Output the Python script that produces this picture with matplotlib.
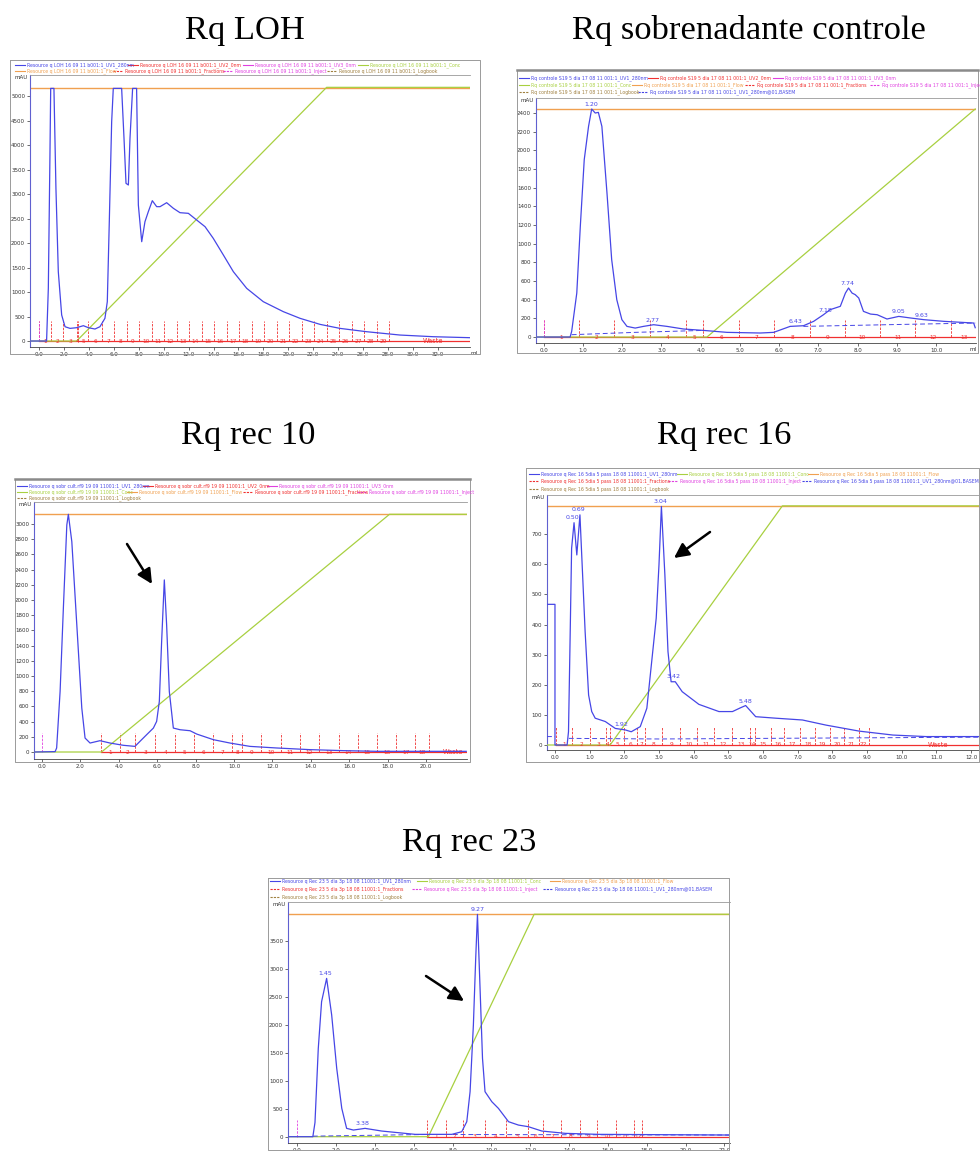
import numpy as np
import matplotlib.pyplot as plt

W, H = 980, 1151

titles = ['Rq LOH', 'Rq sobrenadante controle', 'Rq rec 10', 'Rq rec 16', 'Rq rec 23']

# ---------------- Rq LOH ----------------
loh_t = [-0.72, 0.61, 0.75, 0.88, 0.94, 1.2, 1.36, 1.55, 1.82, 2.09, 2.49, 3.02, 3.56, 3.96,
         4.49, 4.89, 5.29, 5.48, 5.64, 5.83, 5.96, 6.63, 6.82, 6.98, 7.17, 7.3, 7.51, 7.83,
         7.97, 8.24, 8.5, 8.77, 9.09, 9.44, 9.71, 10.24, 10.78, 11.31, 11.98, 12.65, 13.32,
         13.98, 14.79, 15.59, 16.66, 17.99, 19.6, 20.94, 22.54, 24.14, 26.28, 28.96, 31.63, 34.57]
loh_uv = [0, 0, 1075, 3796, 5156, 5156, 3116, 1415, 531, 292, 258, 272, 313, 272,
          245, 292, 463, 803, 2435, 4476, 5156, 5156, 4136, 3218, 3184, 4136, 5156, 5156,
          2776, 2027, 2435, 2640, 2864, 2742, 2742, 2823, 2708, 2619, 2606, 2469, 2333,
          2095, 1755, 1415, 1075, 803, 599, 463, 340, 258, 190, 122, 88, 68]
loh_conc_t = [-0.72, 3.02, 23.07, 34.57]
loh_conc = [0, 0, 5177, 5177]
loh_flow = 5156
loh_frac = [0.0, 0.96, 1.95, 3.02, 3.12, 3.96, 5.03, 6.04, 7.03, 8.05, 9.06, 10.05, 11.04, 12.06,
            13.05, 14.06, 15.05, 16.07, 17.06, 18.07, 19.06, 20.08, 21.07, 22.09, 23.07, 24.09,
            25.08, 26.07, 27.09, 28.07]

# ---------------- Rq sobrenadante controle ----------------
ctl_t = [-0.2, 0.67, 0.71, 0.84, 0.93, 1.03, 1.14, 1.22, 1.31, 1.39, 1.48, 1.61, 1.73, 1.86,
         1.99, 2.12, 2.33, 2.54, 2.8, 3.14, 3.56, 4.07, 4.67, 5.52, 5.86, 6.28, 6.62, 6.88,
         7.13, 7.3, 7.56, 7.69, 7.77, 7.86, 7.94, 8.03, 8.15, 8.33, 8.5, 8.75, 9.05, 9.35,
         9.69, 10.2, 10.96, 11.0]
ctl_uv = [0, 0, 61, 471, 1186, 1900, 2257, 2443, 2400, 2407, 2257, 1543, 829, 400,
          186, 114, 96, 114, 132, 114, 86, 71, 50, 43, 50, 114, 121, 168,
          239, 293, 329, 471, 525, 471, 454, 418, 275, 246, 239, 193, 221, 204,
          186, 168, 150, 100]
ctl_conc_t = [-0.2, 4.16, 11.0]
ctl_conc = [0, 0, 2443]
ctl_flow = 2443
ctl_base_t = [0.71, 2.33, 4.07, np.nan, 6.62, 8.75, 11.0]
ctl_base = [25, 50, 71, np.nan, 114, 132, 150]
ctl_frac = [0.0, 0.9, 1.8, 2.71, 3.62, 4.07, 4.97, 5.88, 6.78, 7.67, 8.58, 9.47, 10.38, 11.03]
ctl_peaks = [1.20, 2.77, 6.43, 7.18, 7.74, 9.05, 9.63]
ctl_peak_h = [2443, 132, 114, 239, 525, 221, 186]

# ---------------- Rq rec 10 ----------------
r10_t = [-0.42, 0.68, 0.76, 0.94, 1.11, 1.29, 1.37, 1.55, 1.81, 2.07, 2.24, 2.5, 3.02, 3.54,
         4.24, 4.84, 5.1, 5.45, 5.8, 5.97, 6.11, 6.23, 6.37, 6.49, 6.63, 6.84, 7.19, 7.71,
         8.06, 8.93, 9.79, 10.83, 12.22, 13.96, 15.7, 17.43, 22.1]
r10_uv = [0, 5, 53, 797, 1892, 2987, 3127, 2768, 1673, 578, 184, 118, 149, 118,
          88, 74, 140, 228, 315, 403, 666, 1454, 2264, 1673, 797, 315, 293, 280,
          236, 162, 118, 74, 53, 31, 18, 9, 9]
r10_conc_t = [-0.42, 3.1, 18.1, 22.14]
r10_conc = [0, 0, 3127, 3127]
r10_flow = 3127
r10_frac = [3.09, 4.05, 4.84, 5.9, 6.94, 7.92, 8.9, 9.91, 10.42, 11.42, 12.43, 13.42, 14.43,
            15.45, 16.46, 17.45, 18.46, 19.45, 20.14]

# ---------------- Rq rec 16 ----------------
r16_t = [-0.23, 0.0, 0.0, 0.35, 0.39, 0.43, 0.48, 0.55, 0.63, 0.72, 0.87, 0.97, 1.06, 1.16,
         1.45, 1.74, 2.03, 2.2, 2.46, 2.65, 2.8, 2.92, 3.0, 3.07, 3.17, 3.26, 3.35, 3.47,
         3.67, 4.15, 4.73, 5.12, 5.36, 5.5, 5.79, 6.37, 7.14, 7.82, 8.78, 9.75, 10.7, 12.26]
r16_uv = [467, 467, 0, 0, 44, 310, 653, 738, 631, 764, 376, 166, 111, 89,
          78, 55, 50, 44, 61, 122, 288, 421, 598, 792, 565, 310, 210, 210,
          177, 135, 111, 111, 124, 131, 94, 89, 83, 66, 46, 33, 28, 28]
r16_conc_t = [-0.23, 1.59, 6.56, 12.26]
r16_conc = [0, 0, 794, 794]
r16_flow = 794
r16_base_t = [-0.23, 0.0, np.nan, 0.4, 3.0, 12.26]
r16_base = [28, 28, np.nan, 22, 20, 26]
r16_frac = [0.03, 0.5, 1.01, 1.48, 1.58, 2.0, 2.38, 2.6, 3.1, 3.62, 4.1, 4.6, 5.12, 5.62,
            5.77, 6.23, 6.61, 7.07, 7.51, 7.92, 8.35, 8.76, 9.05]
r16_peaks = [0.50, 0.69, 1.92, 3.04, 3.42, 5.48]
r16_peak_h = [740, 766, 52, 792, 212, 131]

# ---------------- Rq rec 23 ----------------
r23_t = [-0.48, 0.8, 0.91, 1.08, 1.25, 1.51, 1.77, 2.03, 2.29, 2.54, 2.89, 3.49, 4.35, 6.07,
         7.96, 8.47, 8.73, 8.9, 9.07, 9.19, 9.28, 9.42, 9.54, 9.67, 10.02, 10.36, 10.88,
         11.39, 11.9, 12.6, 13.8, 15.5, 22.29]
r23_uv = [0, 0, 253, 1577, 2411, 2827, 2173, 1220, 506, 149, 119, 149, 101, 42,
          42, 89, 268, 804, 1994, 3185, 3970, 2589, 1399, 804, 625, 506, 268,
          208, 179, 101, 60, 42, 30]
r23_conc_t = [-0.48, 6.75, 12.2, 22.29]
r23_conc = [0, 0, 3972, 3972]
r23_flow = 3972
r23_base_t = [0.8, 6.7, 22.29]
r23_base = [10, 40, 30]
r23_frac = [6.7, 7.65, 8.56, 9.67, 10.76, 11.9, 12.68, 13.59, 14.54, 15.46, 16.43, 17.35, 17.75]
r23_peaks = [1.45, 3.38, 9.27]
r23_peak_h = [2827, 149, 3970]

BLUE = '#4646e6'
RED = '#f03030'
MAG = '#e040e0'
GREEN = '#a8d040'
ORANGE = '#f0a050'
BROWN = '#a08040'

fig = plt.figure(figsize=(W / 100, H / 100), dpi=100)


def px_rect(l, t, r, b):
    return [l / W, 1 - b / H, (r - l) / W, (b - t) / H]


panels = [
    dict(rect=(30, 75, 470, 347), xlim=(-0.72, 34.57), ylim=(-122, 5429), yt=np.arange(0, 5001, 500),
         xt=np.arange(0, 33, 2.0), t=loh_t, uv=loh_uv, ct=loh_conc_t, c=loh_conc, flow=loh_flow,
         frac=loh_frac, fh=408, inject=True, waste=31.6, base=None, peaks=None, ml='left'),
    dict(rect=(536, 98, 976, 343), xlim=(-0.2, 11.02), ylim=(-64, 2561), yt=np.arange(0, 2401, 200),
         xt=np.arange(0, 10.1, 1.0), t=ctl_t, uv=ctl_uv, ct=ctl_conc_t, c=ctl_conc, flow=ctl_flow,
         frac=ctl_frac, fh=186, inject=True, waste=None, base=(ctl_base_t, ctl_base),
         peaks=(ctl_peaks, ctl_peak_h), ml='right'),
    dict(rect=(34, 502, 467, 759), xlim=(-0.42, 22.14), ylim=(-92, 3289), yt=np.arange(0, 3001, 200),
         xt=np.arange(0, 20.1, 2.0), t=r10_t, uv=r10_uv, ct=r10_conc_t, c=r10_conc, flow=r10_flow,
         frac=r10_frac, fh=250, inject=True, waste=21.4, base=None, peaks=None, ml=None),
    dict(rect=(547, 495, 980, 750), xlim=(-0.23, 12.26), ylim=(-16.6, 830), yt=np.arange(0, 701, 100),
         xt=np.arange(0, 12.1, 1.0), t=r16_t, uv=r16_uv, ct=r16_conc_t, c=r16_conc, flow=r16_flow,
         frac=r16_frac, fh=61, inject=False, waste=11.05, base=(r16_base_t, r16_base),
         peaks=(r16_peaks, r16_peak_h), ml=None),
    dict(rect=(288, 902, 730, 1142.7), xlim=(-0.48, 22.29), ylim=(-107, 4191), yt=np.arange(0, 3501, 500),
         xt=np.arange(0, 22.1, 2.0), t=r23_t, uv=r23_uv, ct=r23_conc_t, c=r23_conc, flow=r23_flow,
         frac=r23_frac, fh=298, inject=True, waste=None, base=(r23_base_t, r23_base),
         peaks=(r23_peaks, r23_peak_h), ml=None),
]

for p in panels:
    ax = fig.add_axes(px_rect(*p['rect']))
    ax.set_xlim(*p['xlim'])
    ax.set_ylim(*p['ylim'])
    x0, x1 = p['xlim']
    # flow and concentration
    ax.plot([x0, x1], [p['flow'], p['flow']], color=ORANGE, lw=1.0, zorder=2)
    ax.plot(p['ct'], p['c'], color=GREEN, lw=0.9, zorder=3)
    # fractions
    fr = p['frac']
    ax.plot([fr[0], x1], [0, 0], color=RED, lw=0.9, zorder=2)
    for f in fr:
        ax.plot([f, f], [0, p['fh']], color=RED, lw=0.6, ls=(0, (3, 1.5)), zorder=2)
    for i in range(len(fr) - 1):
        ax.text((fr[i] + fr[i + 1]) / 2, 0, str(i + 1), color=RED, fontsize=4.2,
                ha='center', va='center', zorder=4)
    if p['waste'] is not None:
        ax.text(p['waste'], 0, 'Waste', color=RED, fontsize=4.8, ha='center', va='center', zorder=4)
    if p['inject']:
        ax.plot([0.0, 0.0], [0, p['fh']], color=MAG, lw=0.6, ls=(0, (3, 1.5)), zorder=2)
    if p['base'] is not None:
        ax.plot(p['base'][0], p['base'][1], color=BLUE, lw=0.7, ls=(0, (5, 3)), zorder=3)
    # UV trace
    ax.plot(p['t'], p['uv'], color=BLUE, lw=0.9, zorder=5)
    if p['peaks'] is not None:
        for pt, ph in zip(*p['peaks']):
            ax.text(pt, ph + (p['ylim'][1] - p['ylim'][0]) * 0.008, f'{pt:.2f}', color=BLUE,
                    fontsize=4.5, ha='center', va='bottom', zorder=6)

    ax.set_yticks(p['yt'])
    ax.set_yticklabels([f'{int(v)}' for v in p['yt']])
    ax.set_xticks(p['xt'])
    ax.set_xticklabels([f'{v:.1f}' for v in p['xt']])
    ax.tick_params(labelsize=4, length=2, width=0.5, colors='#333333', pad=1.5)
    ax.spines['right'].set_visible(False)
    ax.spines['top'].set_color('#999999')
    ax.spines['top'].set_linewidth(0.6)
    ax.spines['left'].set_color('#6060d0')
    ax.spines['left'].set_linewidth(0.8)
    ax.spines['bottom'].set_color('#444444')
    ax.spines['bottom'].set_linewidth(0.6)
    ax.text(-0.005, 1.0, 'mAU', transform=ax.transAxes, fontsize=4, color='#333333',
            ha='right', va='top')
    if p['ml'] is not None:
        ax.text(1.0, -0.015, 'ml', transform=ax.transAxes, fontsize=4, color='#333333',
                ha=p['ml'], va='top')

# overlay in pixel coordinates for frames, legends, titles and arrows
ov = fig.add_axes([0, 0, 1, 1])
ov.set_xlim(0, W)
ov.set_ylim(H, 0)
ov.axis('off')

frames = [(10, 60, 480, 354), (517, 70, 978, 353), (15, 479, 470, 762),
          (526, 468, 979, 762), (268, 878, 729, 1150)]
for (l, t, r, b) in frames:
    ov.plot([l, r, r, l, l], [t, t, b, b, t], color='#9a9a9a', lw=0.7)
for (l, t, r, b) in frames[1:3]:
    ov.plot([l, r], [t, t], color='#8a8a8a', lw=1.8)

title_pos = [(245, 31), (749, 30), (248, 436), (724, 436), (469, 843)]
for (x, y), s in zip(title_pos, titles):
    ov.text(x, y, s, fontsize=24.8, family='Liberation Serif', ha='center', va='center')


def legend_entry(x, y, text, color, dashed=False):
    ov.plot([x, x + 10], [y, y], color=color, lw=0.8, ls=(0, (2, 1)) if dashed else '-')
    ov.text(x + 12, y, text, color=color, fontsize=3.3, va='center', ha='left')


pre = 'Resource q LOH 16 09 11 b001:1_'
legend_entry(15, 65, pre + 'UV1_280nm', BLUE)
legend_entry(128, 65, pre + 'UV2_0nm', RED)
legend_entry(243, 65, pre + 'UV3_0nm', MAG)
legend_entry(358, 65, pre + 'Conc', GREEN)
legend_entry(15, 71, pre + 'Flow', ORANGE)
legend_entry(113, 71, pre + 'Fractions', RED, True)
legend_entry(223, 71, pre + 'Inject', MAG, True)
legend_entry(327, 71, pre + 'Logbook', BROWN, True)

pre = 'Rq controle S19 5 dia 17 08 11 001:1_'
legend_entry(519, 78, pre + 'UV1_280nm', BLUE)
legend_entry(648, 78, pre + 'UV2_0nm', RED)
legend_entry(773, 78, pre + 'UV3_0nm', MAG)
legend_entry(519, 85, pre + 'Conc', GREEN)
legend_entry(632, 85, pre + 'Flow', ORANGE)
legend_entry(745, 85, pre + 'Fractions', RED, True)
legend_entry(870, 85, pre + 'Injec', MAG, True)
legend_entry(519, 92, pre + 'Logbook', BROWN, True)
legend_entry(638, 92, pre + 'UV1_280nm@01,BASEM', BLUE, True)

pre = 'Resource q sobr cult.rf9 19 09 11001:1_'
legend_entry(17, 486, pre + 'UV1_280nm', BLUE)
legend_entry(143, 486, pre + 'UV2_0nm', RED)
legend_entry(267, 486, pre + 'UV3_0nm', MAG)
legend_entry(17, 492, pre + 'Conc', GREEN)
legend_entry(127, 492, pre + 'Flow', ORANGE)
legend_entry(243, 492, pre + 'Fractions', RED, True)
legend_entry(357, 492, pre + 'Inject', MAG, True)
legend_entry(17, 498, pre + 'Logbook', BROWN, True)

pre = 'Resource q Rec 16 5dia 5 pass 18 08 11001:1_'
legend_entry(529, 474, pre + 'UV1_280nm', BLUE)
legend_entry(677, 474, pre + 'Conc', GREEN)
legend_entry(808, 474, pre + 'Flow', ORANGE)
legend_entry(529, 481, pre + 'Fractions', RED, True)
legend_entry(668, 481, pre + 'Inject', MAG, True)
legend_entry(802, 481, pre + 'UV1_280nm@01,BASEM', BLUE, True)
legend_entry(529, 489, pre + 'Logbook', BROWN, True)

pre = 'Resource q Rec 23 5 dia 3p 18 08 11001:1_'
legend_entry(270, 881, pre + 'UV1_280nm', BLUE)
legend_entry(417, 881, pre + 'Conc', GREEN)
legend_entry(550, 881, pre + 'Flow', ORANGE)
legend_entry(270, 889, pre + 'Fractions', RED, True)
legend_entry(412, 889, pre + 'Inject', MAG, True)
legend_entry(543, 889, pre + 'UV1_280nm@01,BASEM', BLUE, True)
legend_entry(270, 897, pre + 'Logbook', BROWN, True)

arrows = [((127, 544), (152, 584)), ((710, 532), (674, 558)), ((426, 976), (464, 1001))]
for tail, tip in arrows:
    ov.annotate('', xy=tip, xytext=tail,
                arrowprops=dict(arrowstyle='-|>', color='black', lw=1.8, mutation_scale=22,
                                shrinkA=0, shrinkB=0))

fig.savefig('out.png', dpi=100)
